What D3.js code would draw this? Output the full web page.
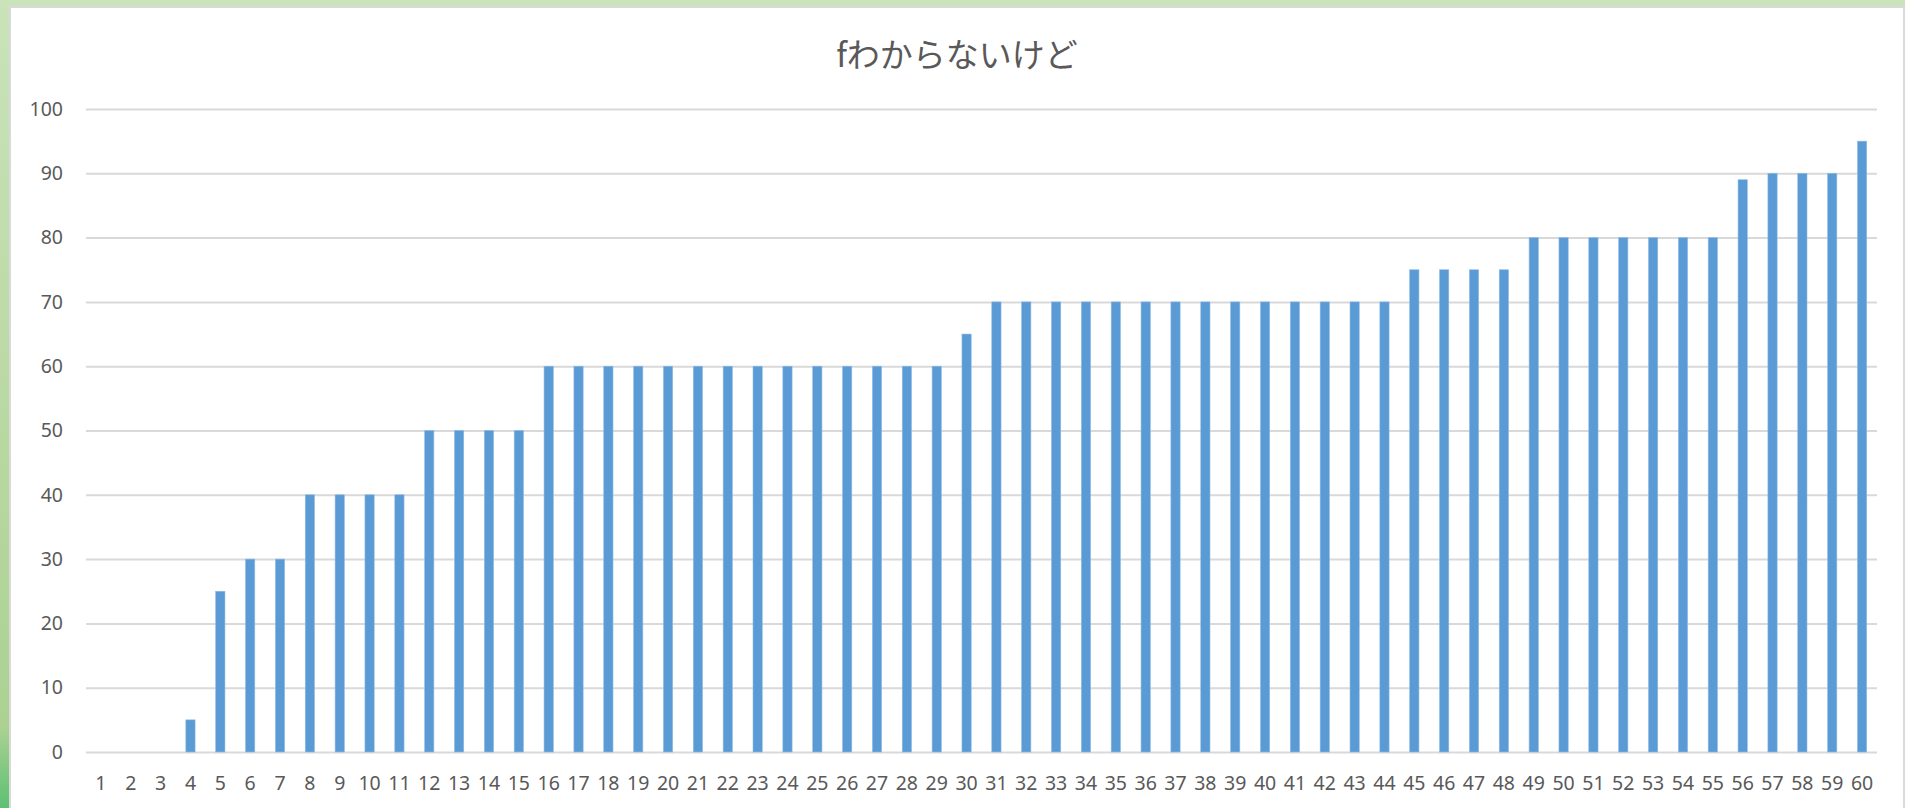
<!DOCTYPE html>
<html>
<head>
<meta charset="utf-8">
<script src="https://cdn.jsdelivr.net/npm/d3@7"></script>
<style>
  html, body { margin: 0; padding: 0; background: #fff; }
  svg { display: block; }
</style>
</head>
<body>
<div id="chart"></div>
<script>
// Chart data
const chartTitle = 'fわからないけど';
const categories = d3.range(1, 61).map(String);
const values = [
    0, 0, 0, 5, 25, 30, 30, 40, 40, 40,
    40, 50, 50, 50, 50, 60, 60, 60, 60, 60,
    60, 60, 60, 60, 60, 60, 60, 60, 60, 65,
    70, 70, 70, 70, 70, 70, 70, 70, 70, 70,
    70, 70, 70, 70, 75, 75, 75, 75, 80, 80,
    80, 80, 80, 80, 80, 89, 90, 90, 90, 95
];
const yTicks = [0, 10, 20, 30, 40, 50, 60, 70, 80, 90, 100];

const W = 1905, H = 808;
const margin = { top: 109, right: 28, bottom: 56, left: 86 };
const width = W - margin.left - margin.right;
const height = H - margin.top - margin.bottom;

const root = d3.select('#chart')
    .append('svg')
    .attr('width', W)
    .attr('height', H);

// Green frame like the worksheet background
const grad = root.append('defs').append('linearGradient')
    .attr('id', 'frame')
    .attr('x1', 0).attr('y1', 0).attr('x2', 0).attr('y2', 1);
grad.append('stop').attr('offset', '0%').attr('stop-color', '#cae3ba');
grad.append('stop').attr('offset', '90%').attr('stop-color', '#acd192');
grad.append('stop').attr('offset', '100%').attr('stop-color', '#5cc173');

root.append('rect').attr('x', 0).attr('y', 0).attr('width', 10).attr('height', H).attr('fill', 'url(#frame)');
root.append('rect').attr('x', 0).attr('y', 0).attr('width', W).attr('height', 6).attr('fill', '#cae3ba');
root.append('rect').attr('x', 9).attr('y', 6).attr('width', W - 9).attr('height', H - 6).attr('fill', '#d9d9d9');
root.append('rect').attr('x', 11).attr('y', 8).attr('width', W - 13).attr('height', H - 8).attr('fill', '#ffffff');

// Title
root.append('text')
    .attr('x', 957)
    .attr('y', 53)
    .attr('text-anchor', 'middle')
    .attr('dominant-baseline', 'central')
    .attr('fill', '#595959')
    .style('font-family', '"Noto Sans CJK JP", "Noto Sans", sans-serif')
    .style('font-size', '33px')
    .text(chartTitle);

const svg = root.append('g')
    .attr('transform', `translate(${margin.left},${margin.top})`);

// Scales
const xScale = d3.scaleBand()
    .domain(categories)
    .range([0, width])
    .paddingInner(0.69)
    .paddingOuter(0.345);

const yScale = d3.scaleLinear()
    .domain([0, 100])
    .range([height, 0]);

// Gridlines
svg.append('g')
    .call(d3.axisLeft(yScale).tickValues(yTicks).tickSize(-width).tickFormat(''))
    .call((g) => g.select('.domain').remove())
    .call((g) => g.selectAll('line').attr('stroke', '#d9d9d9').attr('stroke-width', 2));

// Y axis labels
svg.append('g')
    .call(d3.axisLeft(yScale).tickValues(yTicks).tickSize(0).tickPadding(23))
    .call((g) => g.select('.domain').remove())
    .call((g) => g.selectAll('text')
        .attr('fill', '#595959')
        .style('font-family', '"Noto Sans", sans-serif')
        .style('font-size', '19.5px'));

// Bars
svg.selectAll('rect.bar')
    .data(values)
    .enter()
    .append('rect')
    .attr('class', 'bar')
    .attr('x', (_, i) => xScale(categories[i]))
    .attr('y', (d) => yScale(d))
    .attr('width', xScale.bandwidth())
    .attr('height', (d) => height - yScale(d))
    .attr('fill', '#5b9bd5')
    .attr('stroke', '#8fbbe3')
    .attr('stroke-width', 0.6);

// X axis labels
svg.append('g')
    .attr('transform', `translate(0,${height})`)
    .call(d3.axisBottom(xScale).tickSize(0).tickPadding(24))
    .call((g) => g.select('.domain').remove())
    .call((g) => g.selectAll('text')
        .attr('fill', '#595959')
        .style('font-family', '"Noto Sans", sans-serif')
        .style('font-size', '19.5px'));
</script>
</body>
</html>
